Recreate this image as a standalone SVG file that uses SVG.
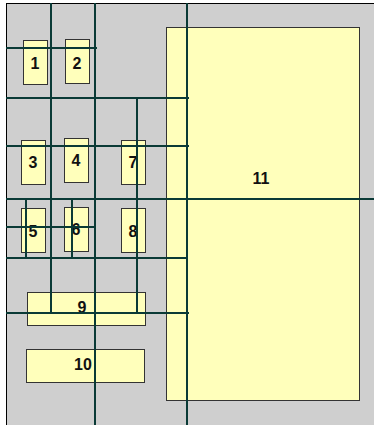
<svg xmlns="http://www.w3.org/2000/svg" width="374" height="425" viewBox="0 0 374 425">
<style>
.n{fill:#ffffbb;stroke:#333;stroke-width:1}
.t{font-family:"Liberation Sans",Arial,sans-serif;font-weight:bold;font-size:16px;fill:#111;text-anchor:middle}
.c line{stroke:#0a3a36;stroke-width:2}
</style>
<rect x="6.5" y="3.5" width="380" height="430" fill="#cfcfcf" stroke="#000" stroke-width="1"/>
<g id="n11"><rect class="n" x="166.5" y="27.5" width="193" height="373"/><text class="t" x="261" y="184">11</text></g>
<g id="n1"><rect class="n" x="23.5" y="40.5" width="24" height="44"/><text class="t" x="35" y="69">1</text></g>
<g id="n2"><rect class="n" x="65.5" y="39.5" width="24" height="44"/><text class="t" x="77" y="69">2</text></g>
<g id="n3"><rect class="n" x="21.5" y="140.5" width="24" height="44"/><text class="t" x="33" y="168">3</text></g>
<g id="n4"><rect class="n" x="64.5" y="138.5" width="24" height="44"/><text class="t" x="76" y="166">4</text></g>
<g id="n7"><rect class="n" x="121.5" y="140.5" width="24" height="44"/><text class="t" x="133" y="168">7</text></g>
<g id="n5"><rect class="n" x="21.5" y="208.5" width="24" height="44"/><text class="t" x="33" y="237">5</text></g>
<g id="n6"><rect class="n" x="64.5" y="207.5" width="24" height="44"/><text class="t" x="76" y="235">6</text></g>
<g id="n8"><rect class="n" x="121.5" y="208.5" width="24" height="44"/><text class="t" x="133" y="237">8</text></g>
<g id="n9"><rect class="n" x="27.5" y="292.5" width="118" height="33"/><text class="t" x="82" y="313">9</text></g>
<g id="n10"><rect class="n" x="26.5" y="349.5" width="118" height="33"/><text class="t" x="83" y="370">10</text></g>
<g class="c" id="connectors">
<line x1="51" y1="3" x2="51" y2="313"/>
<line x1="95" y1="3" x2="95" y2="425"/>
<line x1="187" y1="3" x2="187" y2="425"/>
<line x1="137" y1="98" x2="137" y2="313"/>
<line x1="26" y1="199" x2="26" y2="258"/>
<line x1="72" y1="199" x2="72" y2="258"/>
<line x1="6" y1="48" x2="97" y2="48"/>
<line x1="6" y1="98" x2="189" y2="98"/>
<line x1="6" y1="146" x2="189" y2="146"/>
<line x1="6" y1="199" x2="374" y2="199"/>
<line x1="6" y1="227" x2="95" y2="227"/>
<line x1="6" y1="258" x2="187" y2="258"/>
<line x1="6" y1="313" x2="189" y2="313"/>
</g>
</svg>
